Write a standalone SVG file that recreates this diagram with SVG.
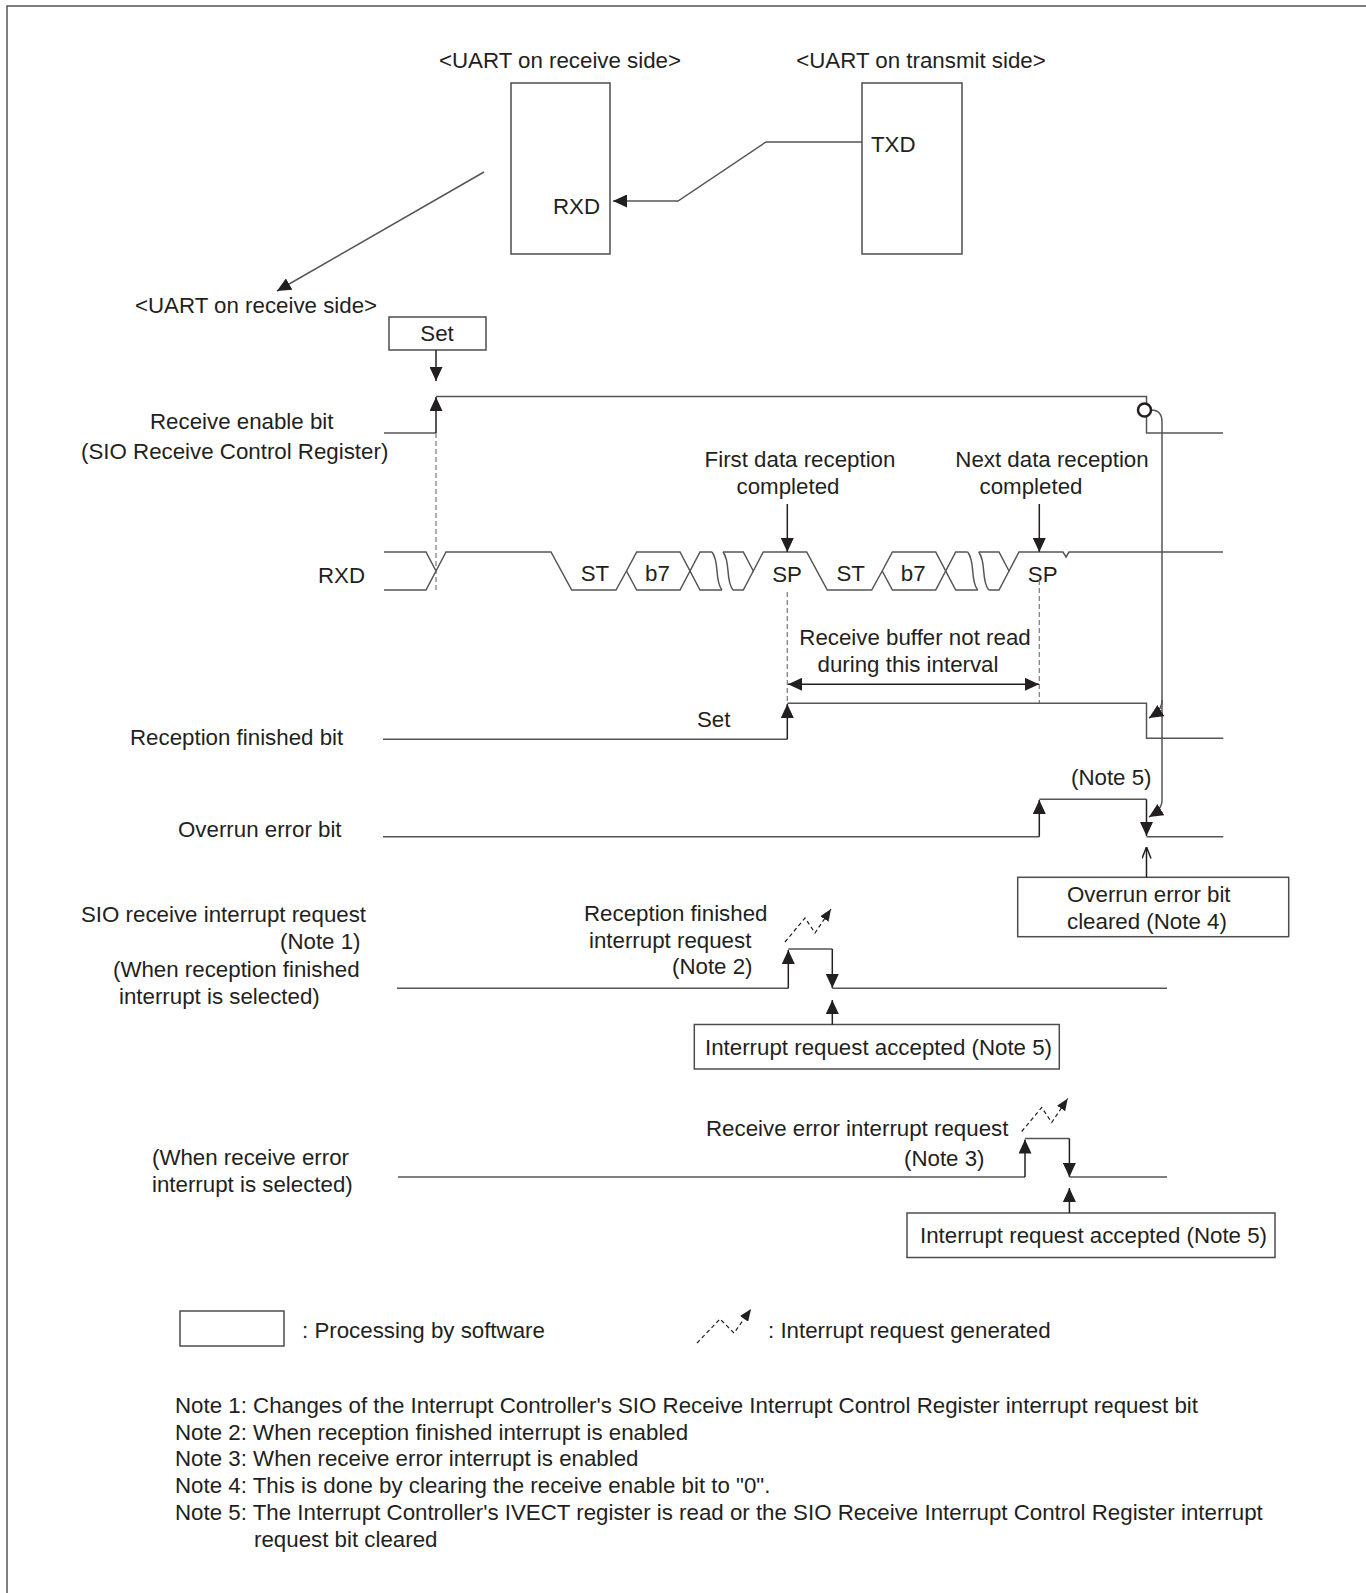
<svg xmlns="http://www.w3.org/2000/svg" width="1366" height="1593" viewBox="0 0 1366 1593">
<style>
text{font-family:"Liberation Sans",Arial,sans-serif;font-size:22.3px;fill:#231f20}
.m{text-anchor:middle}
.box{fill:#fff;stroke:#4d4d4d;stroke-width:1.5}
.sig{fill:none;stroke:#555;stroke-width:1.5}
.ar{fill:none;stroke:#231f20;stroke-width:1.5}
.dash{fill:none;stroke:#777;stroke-width:1.2;stroke-dasharray:5,3}
.zz{fill:none;stroke:#231f20;stroke-width:1.2;stroke-dasharray:4,3}
</style>
<defs>
<marker id="ah" viewBox="0 0 14 13" refX="14" refY="6.5" markerWidth="14" markerHeight="13" markerUnits="userSpaceOnUse" orient="auto-start-reverse"><path d="M0,0 L14,6.5 L0,13 z" fill="#231f20"/></marker>
<marker id="ahs" viewBox="0 0 12 10" refX="12" refY="5" markerWidth="12" markerHeight="10" markerUnits="userSpaceOnUse" orient="auto"><path d="M0,0 L12,5 L0,10 z" fill="#231f20"/></marker>
<marker id="aho" viewBox="0 0 12 10" refX="11.5" refY="5" markerWidth="12" markerHeight="10" markerUnits="userSpaceOnUse" orient="auto"><path d="M0,0.5 L11.5,5 L0,9.5" fill="none" stroke="#231f20" stroke-width="1.5"/></marker>
</defs>
<rect width="1366" height="1593" fill="#fff"/>
<path d="M7,1593 V6 H1366" fill="none" stroke="#555" stroke-width="1.5"/>

<g id="uart-rx-top">
<text class="m" x="560" y="68">&lt;UART on receive side&gt;</text>
<rect class="box" x="511" y="83" width="99" height="171"/>
<text x="553" y="214">RXD</text>
</g>
<g id="uart-tx-top">
<text class="m" x="921" y="68">&lt;UART on transmit side&gt;</text>
<rect class="box" x="862" y="83" width="100" height="171"/>
<text x="871" y="152">TXD</text>
</g>
<g id="uart-rx-label">
<text x="135" y="313">&lt;UART on receive side&gt;</text>
</g>
<g id="set-box">
<rect class="box" x="389" y="317" width="97" height="33"/>
<text class="m" x="437" y="341">Set</text>
</g>

<g id="labels">
<text x="150" y="429">Receive enable bit</text>
<text x="81" y="459">(SIO Receive Control Register)</text>
<text x="318" y="583">RXD</text>
<text x="130" y="745">Reception finished bit</text>
<text x="178" y="837">Overrun error bit</text>
<text x="81" y="922">SIO receive interrupt request</text>
<text x="280" y="949">(Note 1)</text>
<text x="113" y="977">(When reception finished</text>
<text x="119" y="1004">interrupt is selected)</text>
<text x="152" y="1165">(When receive error</text>
<text x="152" y="1192">interrupt is selected)</text>
</g>

<g id="annotations">
<text class="m" x="800" y="467">First data reception</text>
<text class="m" x="788" y="494">completed</text>
<text class="m" x="1052" y="467">Next data reception</text>
<text class="m" x="1031" y="494">completed</text>
<text class="m" x="915" y="645">Receive buffer not read</text>
<text class="m" x="908" y="672">during this interval</text>
<text x="697" y="727">Set</text>
<text x="1071" y="785">(Note 5)</text>
<text x="584" y="921">Reception finished</text>
<text x="589" y="948">interrupt request</text>
<text x="672" y="974">(Note 2)</text>
<text x="706" y="1136">Receive error interrupt request</text>
<text x="904" y="1166">(Note 3)</text>
</g>

<g id="rxd-bits">
<text class="m" x="595" y="581">ST</text>
<text class="m" x="657.5" y="581">b7</text>
<text class="m" x="787" y="582">SP</text>
<text class="m" x="850.7" y="581">ST</text>
<text class="m" x="913.2" y="581">b7</text>
<text class="m" x="1042.7" y="582">SP</text>
</g>

<g id="overrun-clear-box">
<rect class="box" x="1017.7" y="877.3" width="271" height="59.4"/>
<text x="1067" y="902">Overrun error bit</text>
<text x="1067" y="929">cleared (Note 4)</text>
</g>
<g id="irq-accepted-1">
<rect class="box" x="694.3" y="1024.5" width="365" height="44.5"/>
<text x="705" y="1055">Interrupt request accepted (Note 5)</text>
</g>
<g id="irq-accepted-2">
<rect class="box" x="907" y="1213" width="368" height="44.5"/>
<text x="920" y="1243">Interrupt request accepted (Note 5)</text>
</g>

<g id="legend">
<rect class="box" x="180" y="1311" width="104" height="35"/>
<text x="302" y="1338">: Processing by software</text>
<path class="zz" d="M697,1343 L720,1319 L734,1333 L751,1309" marker-end="url(#ahs)"/>
<text x="768" y="1338">: Interrupt request generated</text>
</g>

<g id="notes">
<text x="175" y="1413">Note 1: Changes of the Interrupt Controller's SIO Receive Interrupt Control Register interrupt request bit</text>
<text x="175" y="1440">Note 2: When reception finished interrupt is enabled</text>
<text x="175" y="1466">Note 3: When receive error interrupt is enabled</text>
<text x="175" y="1493">Note 4: This is done by clearing the receive enable bit to "0".</text>
<text x="175" y="1520">Note 5: The Interrupt Controller's IVECT register is read or the SIO Receive Interrupt Control Register interrupt</text>
<text x="254" y="1547">request bit cleared</text>
</g>

<g id="connectors">
<path class="sig" d="M862,142 H766 L678,201 H613" marker-end="url(#ah)"/>
<path class="sig" d="M484,172 L277,291" marker-end="url(#ah)"/>
<path class="ar" d="M436,350 V381" marker-end="url(#ah)"/>

<!-- Receive enable bit -->
<path class="sig" d="M384,433 H436"/>
<path class="ar" d="M436,433 V397" marker-end="url(#ah)"/>
<path class="sig" d="M436,396.5 H1146.5 V433 H1223"/>
<path class="dash" d="M436,433 V590"/>
<path class="sig" d="M1151,410 Q1162,410 1162,422 V800 C1162,808 1157,812 1149,817" marker-end="url(#ah)"/>
<path class="sig" d="M1162,700 C1162,709 1157,713 1149,718" marker-end="url(#ah)"/>
<circle cx="1144.5" cy="410" r="6.5" fill="#fff" stroke="#231f20" stroke-width="2.5"/>

<!-- RXD -->
<path class="sig" d="M384,552 H426 L436,571 L446,552 H551 L571.7,590 H616 L626.5,571 L636.7,552 H680 L700,590 H722"/>
<path class="sig" d="M384,590 H426 L436,571"/>
<path class="sig" d="M626.5,571 L636.7,590 H680 L700,552 H712"/>
<path class="sig" d="M712,552 C720,562 714,580 722,590 M723,552 C731,562 725,580 733,590"/>
<path class="sig" d="M723,552 H743.3 L753.3,571 L763.3,552 H806.7 L827.3,590 H871.7 L882.2,571 L892.4,552 H935.7 L955.7,590 H977.7"/>
<path class="sig" d="M733,590 H743.3 L753.3,571"/>
<path class="sig" d="M882.2,571 L892.4,590 H935.7 L955.7,552 H967.7"/>
<path class="sig" d="M967.7,552 C975.7,562 969.7,580 977.7,590 M978.7,552 C986.7,562 980.7,580 988.7,590"/>
<path class="sig" d="M978.7,552 H999 L1009,571 L1019,552 H1063 L1066,557 L1069,552 H1223"/>
<path class="sig" d="M988.7,590 H999 L1009,571"/>
<path class="ar" d="M787.3,504 V552" marker-end="url(#ah)"/>
<path class="ar" d="M1039.3,504 V552" marker-end="url(#ah)"/>
<path class="dash" d="M787.3,592 V703"/>
<path class="dash" d="M1039.3,580 V703"/>
<path class="ar" d="M788,684.3 H1039" marker-start="url(#ah)" marker-end="url(#ah)"/>

<!-- Reception finished bit -->
<path class="sig" d="M383,739.3 H787.3"/>
<path class="ar" d="M787.3,739.3 V704" marker-end="url(#ah)"/>
<path class="sig" d="M787.3,703.3 H1146.5 V738.3 H1223.3"/>

<!-- Overrun error bit -->
<path class="sig" d="M383,836.7 H1039.3"/>
<path class="ar" d="M1039.3,836.7 V800" marker-end="url(#ah)"/>
<path class="sig" d="M1039.3,799.3 H1146.5"/>
<path class="ar" d="M1146.5,799.3 V836" marker-end="url(#ah)"/>
<path class="sig" d="M1146.5,836.7 H1223.3"/>
<path class="ar" d="M1146.5,877.3 V847" marker-end="url(#aho)"/>

<!-- SIO receive interrupt (reception finished) -->
<path class="sig" d="M397,988.3 H788.3"/>
<path class="ar" d="M788.3,988.3 V950" marker-end="url(#ah)"/>
<path class="sig" d="M788.3,949 H832.3"/>
<path class="ar" d="M832.3,949 V988" marker-end="url(#ah)"/>
<path class="sig" d="M832.3,988.3 H1167"/>
<path class="zz" d="M785,942 L805,918 L815,933 L831,909" marker-end="url(#ahs)"/>
<path class="ar" d="M832.3,1024.5 V1000" marker-end="url(#ah)"/>

<!-- Receive error interrupt -->
<path class="sig" d="M398,1177 H1025"/>
<path class="ar" d="M1025,1177 V1139.5" marker-end="url(#ah)"/>
<path class="sig" d="M1025,1138.5 H1069.4"/>
<path class="ar" d="M1069.4,1138.5 V1177" marker-end="url(#ah)"/>
<path class="sig" d="M1069.4,1177 H1167"/>
<path class="zz" d="M1021.7,1131.5 L1041.7,1107.5 L1051.7,1122.5 L1067.7,1098.5" marker-end="url(#ahs)"/>
<path class="ar" d="M1069.4,1213 V1188" marker-end="url(#ah)"/>
</g>
</svg>
